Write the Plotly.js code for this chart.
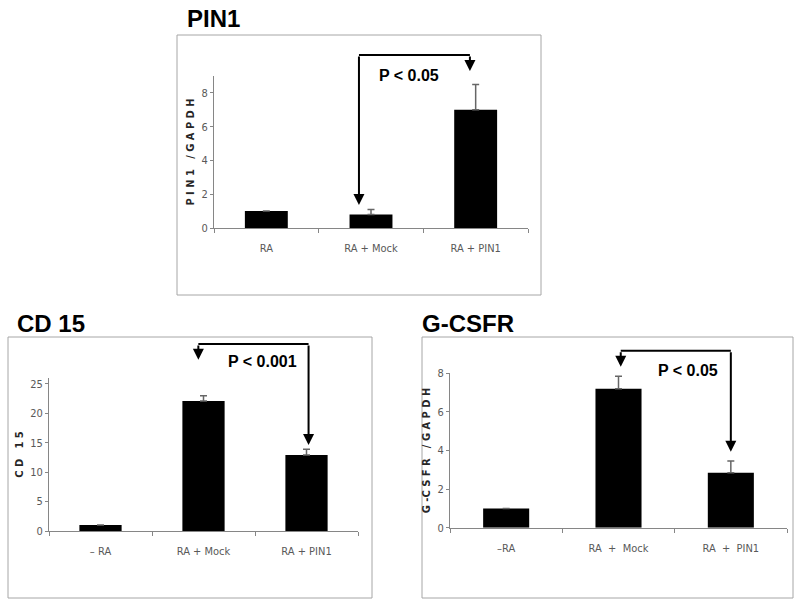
<!DOCTYPE html>
<html>
<head>
<meta charset="utf-8">
<script src="https://cdn.plot.ly/plotly-3.0.1.min.js"></script>
<style>html,body{margin:0;padding:0;background:#fff;}#chart{width:800px;height:607px;}</style>
</head>
<body>
<div id="chart"></div>
<script>
// ---- data ----
const pin1Categories = ['RA', 'RA + Mock', 'RA + PIN1'];
const pin1Values = [1.0, 0.8, 7.0];
const pin1Errors = [null, 0.3, 1.5];

const cd15Categories = ['\u2013 RA', 'RA + Mock', 'RA + PIN1'];
const cd15Values = [1.0, 22.1, 12.9];
const cd15Errors = [null, 0.9, 1.0];

const gcsfrCategories = ['\u2013RA', 'RA  +  Mock', 'RA  +  PIN1'];
const gcsfrValues = [1.0, 7.2, 2.85];
const gcsfrErrors = [null, 0.65, 0.6];

const panelTitles = ['PIN1', 'CD 15', 'G-CSFR'];
const yTitles = ['P I N 1   / G A P D H', 'C D   1 5', 'G -C S F R   / G A P D H'];
const pLabels = ['P < 0.05', 'P < 0.001', 'P < 0.05'];
const yTickVals = [[0, 2, 4, 6, 8], [0, 5, 10, 15, 20, 25], [0, 2, 4, 6, 8]];

// ---- layout helpers (pixel -> paper) ----
const W = 800, H = 607;
const px = v => v / W;
const py = v => 1 - v / H;

const panels = [
  {cats: pin1Categories, vals: pin1Values, errs: pin1Errors, xr: [214, 528], yr: [228, 76], ymax: 9,
   frame: [177, 35, 541, 295], title: [185, 18], ptext: [409, 75],
   bracket: {top: 55, left: 0.885, right: 1.945, headL: 1.36, headR: 9.3}},
  {cats: cd15Categories, vals: cd15Values, errs: cd15Errors, xr: [49, 358], yr: [531, 378], ymax: 26,
   frame: [8, 337, 372, 598], title: [15, 323], ptext: [262, 361],
   bracket: {top: 344, left: 0.95, right: 2.02, headL: 29.1, headR: 14.6}},
  {cats: gcsfrCategories, vals: gcsfrValues, errs: gcsfrErrors, xr: [450, 787], yr: [527.7, 373.3], ymax: 8,
   frame: [422, 337, 793, 598], title: [420, 323], ptext: [688, 370],
   bracket: {top: 350.7, left: 1.02, right: 2.0, headL: 8.34, headR: 3.94}}
];

const tickFont = {family: 'Liberation Sans Narrow, DejaVu Sans Condensed, Arial Narrow, sans-serif', size: 11, color: '#595959'};
const traces = [];
const layout = {
  width: W, height: H,
  margin: {l: 0, r: 0, t: 0, b: 0},
  paper_bgcolor: '#ffffff', plot_bgcolor: 'rgba(0,0,0,0)',
  showlegend: false,
  bargap: 0.59,
  shapes: [], annotations: []
};

panels.forEach((p, i) => {
  const xa = i === 0 ? 'x' : 'x' + (i + 1);
  const ya = i === 0 ? 'y' : 'y' + (i + 1);
  traces.push({
    type: 'bar', x: p.cats, y: p.vals, xaxis: xa, yaxis: ya,
    marker: {color: '#000000', line: {width: 0}},
    error_y: {type: 'data', array: p.errs, arrayminus: p.errs.map(e => (e === null ? null : 0)), symmetric: false,
              color: '#666666', thickness: 1.5, width: 3.5},
    hoverinfo: 'skip'
  });
  const xKey = i === 0 ? 'xaxis' : 'xaxis' + (i + 1);
  const yKey = i === 0 ? 'yaxis' : 'yaxis' + (i + 1);
  layout[xKey] = {
    domain: [px(p.xr[0]), px(p.xr[1])], anchor: ya, type: 'category',
    range: [-0.5, 2.5], showline: true, linecolor: '#868686', linewidth: 1,
    ticks: 'outside', tickson: 'boundaries', ticklen: 4, tickcolor: '#868686',
    tickfont: tickFont, ticklabelstandoff: 10, showgrid: false, zeroline: false, fixedrange: true
  };
  layout[yKey] = {
    domain: [py(p.yr[0]), py(p.yr[1])], anchor: xa,
    range: [0, p.ymax], tickvals: yTickVals[i], showline: true, linecolor: '#868686', linewidth: 1,
    ticks: 'outside', ticklen: 3, tickcolor: '#868686', tickfont: tickFont,
    showgrid: false, zeroline: false, fixedrange: true,
    title: {text: yTitles[i], standoff: 4,
            font: {family: 'Liberation Sans Narrow, DejaVu Sans Condensed, sans-serif', size: 11, color: '#262626', weight: 'bold'}}
  };
  // panel frame
  layout.shapes.push({type: 'rect', xref: 'paper', yref: 'paper',
    x0: px(p.frame[0]), x1: px(p.frame[2]), y0: py(p.frame[3]), y1: py(p.frame[1]),
    line: {color: '#a6a6a6', width: 1}, fillcolor: 'rgba(0,0,0,0)', layer: 'below'});
  // bracket horizontal line
  const bTop = (p.yr[0] - p.bracket.top) / (p.yr[0] - p.yr[1]);
  layout.shapes.push({type: 'line', xref: xa, yref: ya + ' domain',
    x0: p.bracket.left, x1: p.bracket.right, y0: bTop, y1: bTop,
    line: {color: '#000000', width: 2}});
  // arrows
  [[p.bracket.left, p.bracket.headL], [p.bracket.right, p.bracket.headR]].forEach(([bx, hy]) => {
    layout.annotations.push({xref: xa, yref: ya + ' domain', axref: xa, ayref: ya + ' domain',
      x: bx, y: hy / p.ymax, ax: bx, ay: bTop, text: '', showarrow: true,
      arrowhead: 2, arrowsize: 1.1, arrowwidth: 2, arrowcolor: '#000000', standoff: 0, startstandoff: 0});
  });
  // p text
  layout.annotations.push({xref: 'paper', yref: 'paper', x: px(p.ptext[0]), y: py(p.ptext[1]),
    xanchor: 'center', yanchor: 'middle', text: '<b>' + pLabels[i] + '</b>', showarrow: false,
    font: {family: 'Liberation Sans, Arial, sans-serif', size: 16, color: '#000000'}});
  // panel title
  layout.annotations.push({xref: 'paper', yref: 'paper', x: px(p.title[0]), y: py(p.title[1]),
    xanchor: 'left', yanchor: 'middle', text: '<b>' + panelTitles[i] + '</b>', showarrow: false,
    font: {family: 'Liberation Sans, Arial, sans-serif', size: 24, color: '#000000'}});
});

Plotly.newPlot('chart', traces, layout, {staticPlot: true, displayModeBar: false});
</script>
</body>
</html>
